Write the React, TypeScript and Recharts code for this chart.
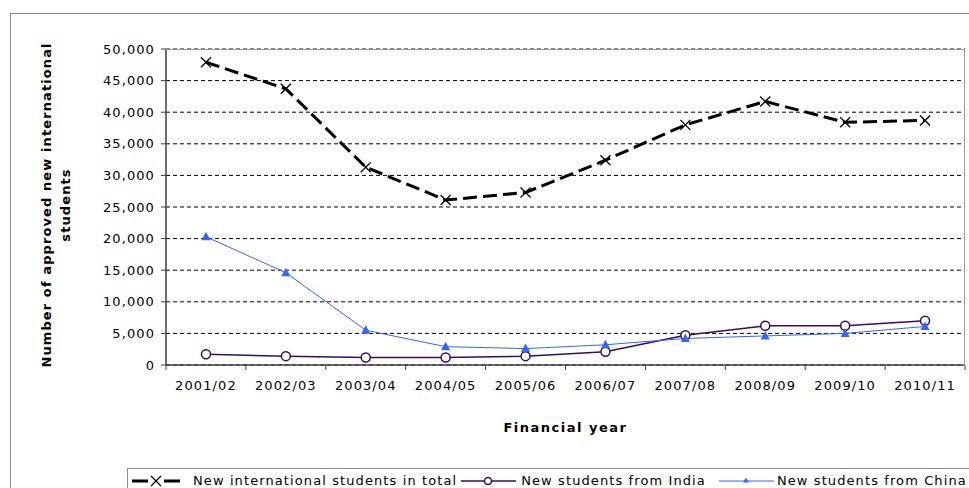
import { LineChart, Line, XAxis, YAxis, CartesianGrid, Label } from 'recharts'

const years = ['2001/02', '2002/03', '2003/04', '2004/05', '2005/06', '2006/07', '2007/08', '2008/09', '2009/10', '2010/11']
const totalStudents = [47900, 43700, 31300, 26100, 27300, 32400, 38000, 41700, 38400, 38700]
const indiaStudents = [1700, 1400, 1200, 1200, 1400, 2100, 4700, 6200, 6200, 7000]
const chinaStudents = [20300, 14600, 5500, 2900, 2600, 3200, 4200, 4600, 5000, 6100]
const yTicks = [0, 5000, 10000, 15000, 20000, 25000, 30000, 35000, 40000, 45000, 50000]

const seriesNames = {
  total: 'New international students in total',
  india: 'New students from India',
  china: 'New students from China',
}

const data = years.map((year, i) => ({
  year,
  total: totalStudents[i],
  india: indiaStudents[i],
  china: chinaStudents[i],
}))

const FONT = '"DejaVu Sans", Verdana, sans-serif'
const INDIA = '#3a0b58'
const CHINA = '#3366ff'
const AXIS = '#404040'

// half of one category slot: (plot width 799 / 10) / 2
const HALF_STEP = 39.95

const tickStyle = { fill: '#000', fontSize: 13, fontFamily: FONT, letterSpacing: 1.1 }

const CrossDot = (props: any) => {
  const { cx, cy } = props
  if (cx == null || cy == null) return null
  const s = 5
  return (
    <g stroke="#000" strokeWidth={1.3}>
      <line x1={cx - s} y1={cy - s} x2={cx + s} y2={cy + s} />
      <line x1={cx - s} y1={cy + s} x2={cx + s} y2={cy - s} />
    </g>
  )
}

const TriangleDot = (props: any) => {
  const { cx, cy } = props
  if (cx == null || cy == null) return null
  return <path d={`M${cx},${cy - 5} L${cx + 4.5},${cy + 3.5} L${cx - 4.5},${cy + 3.5} Z`} fill={CHINA} />
}

// category label in the middle of its slot, tick marks on the slot edges
const YearTick = (props: any) => {
  const { x, y, payload, index } = props
  const axisY = y - 16
  const last = index === years.length - 1
  return (
    <g>
      <line x1={x - HALF_STEP} y1={axisY} x2={x - HALF_STEP} y2={axisY + 5} stroke={AXIS} />
      {last && <line x1={x + HALF_STEP} y1={axisY} x2={x + HALF_STEP} y2={axisY + 5} stroke={AXIS} />}
      <text x={x} y={y} dy="0.71em" textAnchor="middle" style={tickStyle}>
        {payload.value}
      </text>
    </g>
  )
}

const YTitle = (props: any) => {
  const vb = props.viewBox || { y: 49, height: 316 }
  const cy = vb.y + vb.height / 2
  const style = { fontFamily: FONT, fontSize: 13, fontWeight: 700, letterSpacing: 1.1 }
  return (
    <g>
      <text transform={`translate(47, ${cy - 2}) rotate(-90)`} textAnchor="middle" dominantBaseline="middle" style={style}>
        Number of approved new international
      </text>
      <text transform={`translate(66, ${cy - 2}) rotate(-90)`} textAnchor="middle" dominantBaseline="middle" style={style}>
        students
      </text>
    </g>
  )
}

const XTitle = (props: any) => {
  const vb = props.viewBox || { x: 166, width: 799, y: 365 }
  return (
    <text
      x={vb.x + vb.width / 2}
      y={428}
      textAnchor="middle"
      dominantBaseline="middle"
      style={{ fontFamily: FONT, fontSize: 13, fontWeight: 700, letterSpacing: 1.5 }}
    >
      Financial year
    </text>
  )
}

const legendText = { fontFamily: FONT, fontSize: 13, letterSpacing: 1.1, color: '#000', whiteSpace: 'nowrap' as const }

export default function App() {
  return (
    <div style={{ position: 'absolute', left: 0, top: 0, width: 969, height: 488, overflow: 'hidden', background: '#fff' }}>
      {/* outer chart frame, cut off on the right and bottom like the source */}
      <div style={{ position: 'absolute', left: 10, top: 13, width: 1000, height: 520, border: '1px solid #8c8c8c' }} />
      <div style={{ position: 'absolute', left: 0, top: 0 }}>
        <LineChart width={969} height={488} data={data} margin={{ top: 49, right: 4, left: 0, bottom: 0 }}>
          <CartesianGrid vertical={false} stroke="#000" strokeDasharray="4 3" />
          <XAxis
            dataKey="year"
            height={123}
            padding={{ left: HALF_STEP, right: HALF_STEP }}
            tick={<YearTick />}
            tickLine={false}
            axisLine={{ stroke: AXIS, strokeWidth: 1.5 }}
            tickSize={5}
            tickMargin={11}
            interval={0}
          >
            <Label content={<XTitle />} />
          </XAxis>
          <YAxis
            width={166}
            domain={[0, 50000]}
            ticks={yTicks}
            tick={tickStyle}
            tickLine={{ stroke: AXIS }}
            axisLine={{ stroke: AXIS, strokeWidth: 1.5 }}
            tickSize={5}
            tickMargin={6}
            tickFormatter={(v) => Number(v).toLocaleString('en-US')}
            interval={0}
          >
            <Label content={<YTitle />} />
          </YAxis>
          <Line
            dataKey="total"
            name={seriesNames.total}
            type="linear"
            stroke="#000"
            strokeWidth={3}
            strokeDasharray="14 6"
            dot={(p: any) => <CrossDot {...p} key={p.key} />}
            isAnimationActive={false}
          />
          <Line
            dataKey="india"
            name={seriesNames.india}
            type="linear"
            stroke={INDIA}
            strokeWidth={1.5}
            dot={{ r: 4.5, fill: '#fff', stroke: INDIA, strokeWidth: 1.5 }}
            isAnimationActive={false}
          />
          <Line
            dataKey="china"
            name={seriesNames.china}
            type="linear"
            stroke={CHINA}
            strokeWidth={1}
            dot={(p: any) => <TriangleDot {...p} key={p.key} />}
            isAnimationActive={false}
          />
        </LineChart>
      </div>
      {/* plot area frame (top / right) */}
      <div style={{ position: 'absolute', left: 166, top: 48.5, width: 798, height: 316, borderTop: '1px solid #9a9a9a', borderRight: '1px solid #9a9a9a' }} />
      {/* legend */}
      <div
        style={{
          position: 'absolute',
          left: 127,
          top: 468,
          width: 900,
          height: 40,
          border: '1px solid #8c8c8c',
          display: 'flex',
          alignItems: 'flex-start',
          paddingTop: 4,
          boxSizing: 'border-box',
        }}
      >
        <svg width={48} height={16} style={{ marginLeft: 4, flex: 'none' }}>
          <line x1={0} y1={8} x2={16} y2={8} stroke="#000" strokeWidth={3} />
          <line x1={32} y1={8} x2={48} y2={8} stroke="#000" strokeWidth={3} />
          <CrossDot cx={24} cy={8} />
        </svg>
        <span style={{ ...legendText, marginLeft: 13 }}>{seriesNames.total}</span>
        <svg width={55} height={16} style={{ marginLeft: 4, flex: 'none' }}>
          <line x1={0} y1={8} x2={55} y2={8} stroke={INDIA} strokeWidth={1.5} />
          <circle cx={27} cy={8} r={3.5} fill="#fff" stroke={INDIA} strokeWidth={1.5} />
        </svg>
        <span style={{ ...legendText, marginLeft: 5 }}>{seriesNames.india}</span>
        <svg width={55} height={16} style={{ marginLeft: 13, flex: 'none' }}>
          <line x1={0} y1={8} x2={55} y2={8} stroke={CHINA} strokeWidth={1} />
          <path d="M27,4.5 L30,9.5 L24,9.5 Z" fill={CHINA} />
        </svg>
        <span style={{ ...legendText, marginLeft: 3 }}>{seriesNames.china}</span>
      </div>
    </div>
  )
}
